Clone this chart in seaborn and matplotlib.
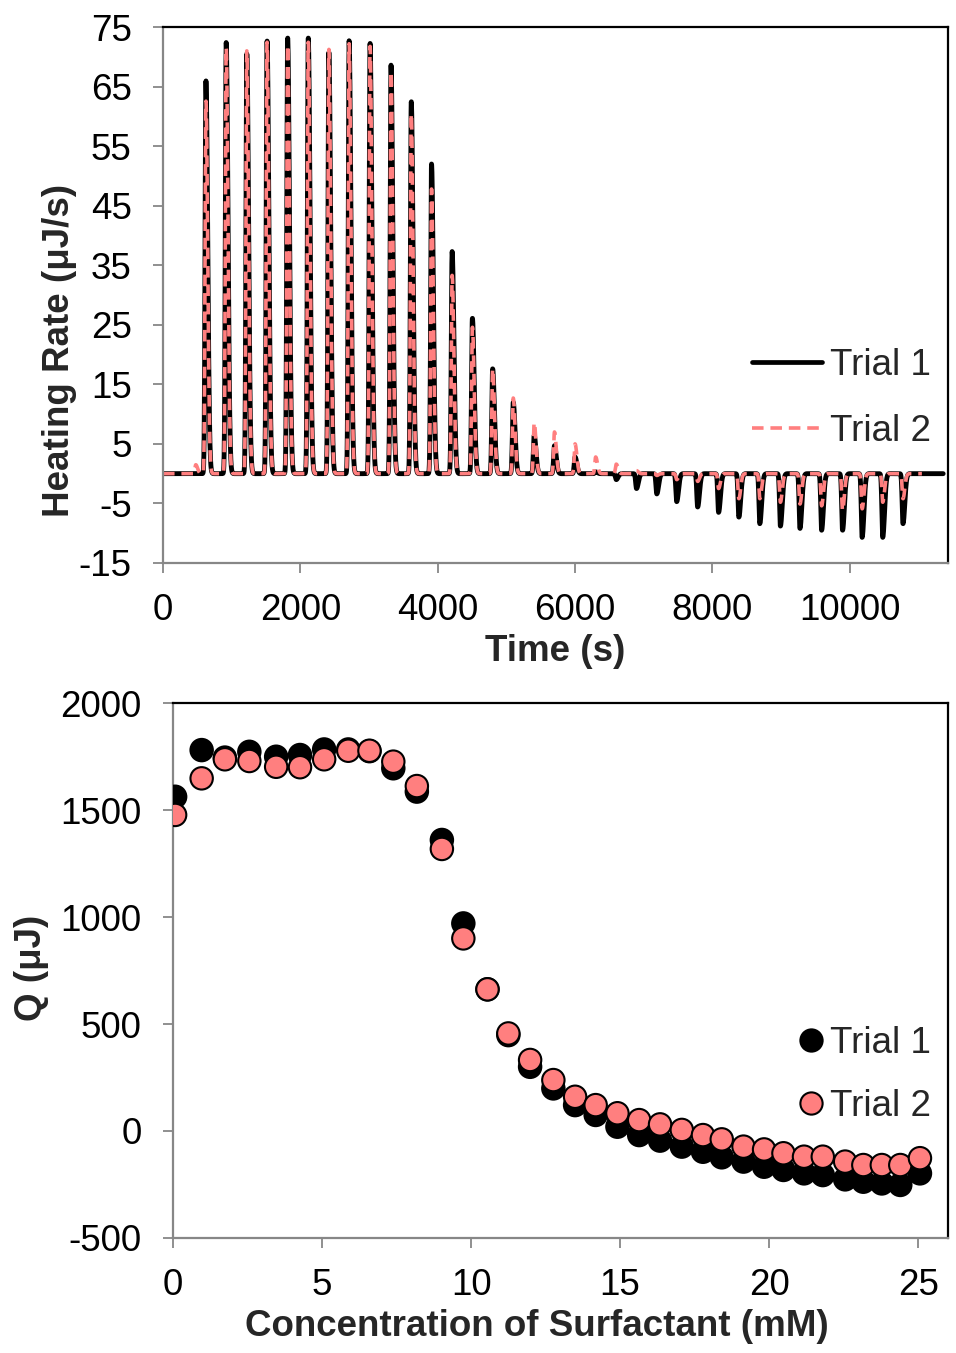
import numpy as np
import pandas as pd
import matplotlib
matplotlib.use("Agg")
import matplotlib.pyplot as plt
from matplotlib.lines import Line2D
import seaborn as sns

# ---- Thermogram: injection times (s) and peak heat rates (uJ/s) ----
inj_time = [625, 920, 1220, 1515, 1815, 2115, 2415, 2710, 3015, 3320,
            3615, 3910, 4210, 4505, 4800, 5100, 5405, 5700, 6000, 6300,
            6600, 6895, 7190, 7480, 7785, 8090, 8385, 8690, 8990, 9275,
            9590, 9895, 10180, 10480, 10775]
peak_trial1 = [66.0, 72.4, 70.5, 72.7, 73.2, 73.2, 70.8, 72.7, 72.3, 68.6,
               62.5, 52.0, 37.3, 26.1, 17.6, 12.0, 6.4, 4.7, 2.8, 0.3,
               -1.0, -2.5, -3.4, -4.7, -5.6, -6.5, -7.3, -8.4, -8.8, -9.2,
               -9.5, -9.5, -10.7, -10.7, -8.4]
peak_trial2 = [62.6, 71.5, 71.0, 72.5, 72.0, 72.5, 71.3, 72.2, 71.8, 67.5,
               60.5, 47.8, 33.3, 24.6, 17.6, 12.7, 8.6, 7.0, 5.0, 2.8,
               1.6, 0.5, -0.3, -1.0, -1.3, -2.5, -4.2, -4.2, -4.8, -5.1,
               -5.4, -6.2, -5.9, -4.8, -4.2]
blip_time_trial2 = 477
blip_height_trial2 = 1.5
end_time_trial1 = 11360
end_time_trial2 = 11050

time_ticks = [0, 2000, 4000, 6000, 8000, 10000]
rate_ticks = [-15, -5, 5, 15, 25, 35, 45, 55, 65, 75]

# ---- Integrated heats per injection ----
conc_mM = [0.07, 0.96, 1.74, 2.56, 3.46, 4.26, 5.07, 5.88, 6.59, 7.39,
           8.18, 9.02, 9.74, 10.55, 11.25, 11.98, 12.76, 13.49, 14.18, 14.91,
           15.64, 16.34, 17.07, 17.78, 18.41, 19.14, 19.83, 20.48, 21.17, 21.80,
           22.55, 23.16, 23.78, 24.40, 25.06]
q_trial1 = [1562, 1780, 1745, 1772, 1749, 1757, 1783, 1783, 1775, 1695,
            1586, 1360, 970, 662, 448, 300, 199, 121, 75, 20,
            -19, -45, -73, -97, -123, -143, -167, -182, -198, -206,
            -226, -237, -245, -252, -198]
q_trial2 = [1477, 1648, 1737, 1729, 1702, 1700, 1737, 1777, 1777, 1726,
            1612, 1318, 900, 662, 456, 332, 238, 160, 121, 83,
            51, 31, 5, -19, -39, -73, -86, -104, -120, -120,
            -143, -159, -159, -159, -127]

conc_ticks = [0, 5, 10, 15, 20, 25]
q_ticks = [-500, 0, 500, 1000, 1500, 2000]

SALMON = "#FF7F7F"
GRAY = "#878787"


def thermogram(times, heights, t_end, step=2.0):
    """Baseline-corrected heat-rate trace built from sharp injection spikes."""
    t = np.arange(0.0, t_end + step, step)
    y = np.zeros_like(t)
    for tp, h in zip(times, heights):
        d = t - tp
        shape = np.where(d < 0, np.exp(-0.5 * (d / 12.0) ** 2),
                         np.exp(-0.5 * (d / 26.0) ** 2))
        y += h * shape
    return t, y


t1, y1 = thermogram(inj_time, peak_trial1, end_time_trial1)
t2, y2 = thermogram([blip_time_trial2] + inj_time,
                    [blip_height_trial2] + peak_trial2, end_time_trial2)

sns.set_style("white")
plt.rcParams["font.family"] = ["Liberation Sans", "DejaVu Sans"]
plt.rcParams["axes.unicode_minus"] = False
FS = 26.5

fig = plt.figure(figsize=(9.56, 13.53), dpi=100)
ax1 = fig.add_axes([0.1705, 0.5839, 0.8211, 0.3961])
ax2 = fig.add_axes([0.181, 0.085, 0.8106, 0.3954])


def style_axes(ax):
    for side in ("left", "bottom"):
        ax.spines[side].set_color(GRAY)
        ax.spines[side].set_linewidth(1.6)
    for side in ("top", "right"):
        ax.spines[side].set_color("black")
        ax.spines[side].set_linewidth(1.6)
        ax.spines[side].set_visible(True)
    ax.tick_params(axis="both", which="major", direction="out", length=7.5,
                   width=1.3, color=GRAY, labelsize=FS, labelcolor="black")
    ax.tick_params(axis="y", pad=15, left=True)
    ax.tick_params(axis="x", pad=14, bottom=True)
    ax.grid(False)


# ---- Top panel: heating rate vs time ----
sns.lineplot(x=t1, y=y1, ax=ax1, color="black", linewidth=3.5,
             estimator=None, sort=False, label="Trial 1")
sns.lineplot(x=t2, y=y2, ax=ax1, color=SALMON, linewidth=2.6,
             linestyle=(0, (3.2, 1.9)), estimator=None, sort=False,
             label="Trial 2")
ax1.set_xlim(0, 11430)
ax1.set_ylim(-15, 75)
ax1.set_xticks(time_ticks)
ax1.set_yticks(rate_ticks)
style_axes(ax1)
ax1.set_xlabel("Time (s)", fontsize=FS, fontweight="bold")
ax1.set_ylabel("Heating Rate (μJ/s)", fontsize=FS, fontweight="bold")
ax1.xaxis.set_label_coords(0.5, -0.133)
ax1.yaxis.set_label_coords(-0.110, 0.396)
handles1 = [Line2D([], [], color="black", linewidth=3.4),
            Line2D([], [], color=SALMON, linewidth=2.6,
                   linestyle=(0, (3.2, 1.9)))]
ax1.legend(handles1, ["Trial 1", "Trial 2"], loc="upper left",
           bbox_to_anchor=(0.750, 0.402), frameon=False, fontsize=FS,
           handlelength=1.9, handletextpad=0.22, labelspacing=0.85,
           borderpad=0, borderaxespad=0)

# ---- Bottom panel: integrated heat vs concentration ----
df_q = pd.DataFrame({
    "conc": conc_mM + conc_mM,
    "Q": q_trial1 + q_trial2,
    "trial": ["Trial 1"] * len(conc_mM) + ["Trial 2"] * len(conc_mM),
})
sns.scatterplot(data=df_q, x="conc", y="Q", hue="trial", ax=ax2,
                palette={"Trial 1": "black", "Trial 2": SALMON},
                s=260, edgecolor="black", linewidth=1.5, legend=False,
                zorder=3)
ax2.set_xlim(0, 26)
ax2.set_ylim(-500, 2000)
ax2.set_xticks(conc_ticks)
ax2.set_yticks(q_ticks)
style_axes(ax2)
ax2.set_xlabel("Concentration of Surfactant (mM)", fontsize=FS,
               fontweight="bold")
ax2.set_ylabel("Q (μJ)", fontsize=FS, fontweight="bold")
ax2.xaxis.set_label_coords(0.47, -0.133)
ax2.yaxis.set_label_coords(-0.160, 0.505)
handles2 = [Line2D([], [], linestyle="none", marker="o", markersize=16,
                   markerfacecolor="black", markeredgecolor="black",
                   markeredgewidth=1.5),
            Line2D([], [], linestyle="none", marker="o", markersize=16,
                   markerfacecolor=SALMON, markeredgecolor="black",
                   markeredgewidth=1.5)]
ax2.legend(handles2, ["Trial 1", "Trial 2"], loc="upper left",
           bbox_to_anchor=(0.806, 0.397), frameon=False, fontsize=FS,
           handlelength=0.75, handletextpad=0.12, labelspacing=0.77,
           borderpad=0, borderaxespad=0)

fig.savefig("out.png", dpi=100)
